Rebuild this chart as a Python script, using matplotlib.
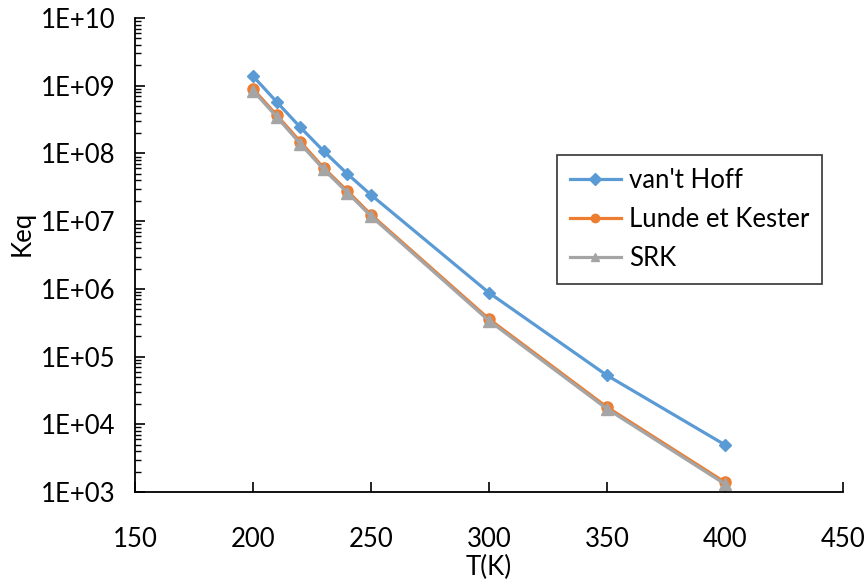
import matplotlib
matplotlib.use("Agg")
import matplotlib.pyplot as plt
from matplotlib.ticker import LogLocator

T = [200, 210, 220, 230, 240, 250, 300, 350, 400]
vant_hoff = [1.39e9, 5.8e8, 2.45e8, 1.08e8, 5.0e7, 2.45e7, 8.8e5, 5.3e4, 5.0e3]
lunde = [9.0e8, 3.7e8, 1.5e8, 6.1e7, 2.8e7, 1.25e7, 3.6e5, 1.8e4, 1.4e3]
srk = [8.5e8, 3.5e8, 1.4e8, 5.8e7, 2.65e7, 1.19e7, 3.4e5, 1.7e4, 1.32e3]
labels = ["van't Hoff", "Lunde et Kester", "SRK"]
ytick_labels = ["1E+03", "1E+04", "1E+05", "1E+06", "1E+07", "1E+08", "1E+09", "1E+10"]

plt.rcParams['font.family'] = ['Lato', 'DejaVu Sans']

fig = plt.figure(figsize=(8.68, 5.81), dpi=100)
ax = fig.add_axes([0.1555, 0.153, 0.8155, 0.816])

ax.plot(T, vant_hoff, color='#5B9BD5', lw=2.3, marker='D', ms=6, label=labels[0])
ax.plot(T, lunde, color='#ED7D31', lw=2.3, marker='o', ms=8, label=labels[1])
ax.plot(T, srk, color='#A5A5A5', lw=2.3, marker='^', ms=8, label=labels[2])

ax.set_yscale('log')
ax.set_ylim(1e3, 1e10)
ax.set_xlim(150, 450)
ax.set_xticks([150, 200, 250, 300, 350, 400, 450])
ax.set_yticks([10.0**k for k in range(3, 11)])
ax.set_yticklabels(ytick_labels)
ax.yaxis.set_minor_locator(LogLocator(base=10, subs=range(2, 10)))
ax.yaxis.set_minor_formatter(plt.NullFormatter())

for s in ['top', 'right']:
    ax.spines[s].set_visible(False)
for s in ['left', 'bottom']:
    ax.spines[s].set_linewidth(1.3)

ax.tick_params(axis='both', which='major', direction='in', length=7, width=1.2, labelsize=18.5)
ax.tick_params(axis='y', which='minor', direction='in', length=4, width=1.0)
ax.tick_params(axis='x', pad=25)
ax.tick_params(axis='y', pad=14)

ax.set_xlabel('T(K)', fontsize=18.5, labelpad=2)
ax.set_ylabel('Keq', fontsize=18.5, va='center')
ax.yaxis.set_label_coords(-0.16, 0.545)

leg = ax.legend(loc='upper left', bbox_to_anchor=(0.596, 0.711), fontsize=18.5,
                frameon=True, fancybox=False, edgecolor='black',
                handlelength=2.0, handletextpad=0.3, borderpad=0.5, labelspacing=0.55,
                borderaxespad=0)
leg.get_frame().set_linewidth(1.2)
for h in leg.legend_handles:
    h.set_markersize(6)

fig.savefig('out.png', dpi=100)
